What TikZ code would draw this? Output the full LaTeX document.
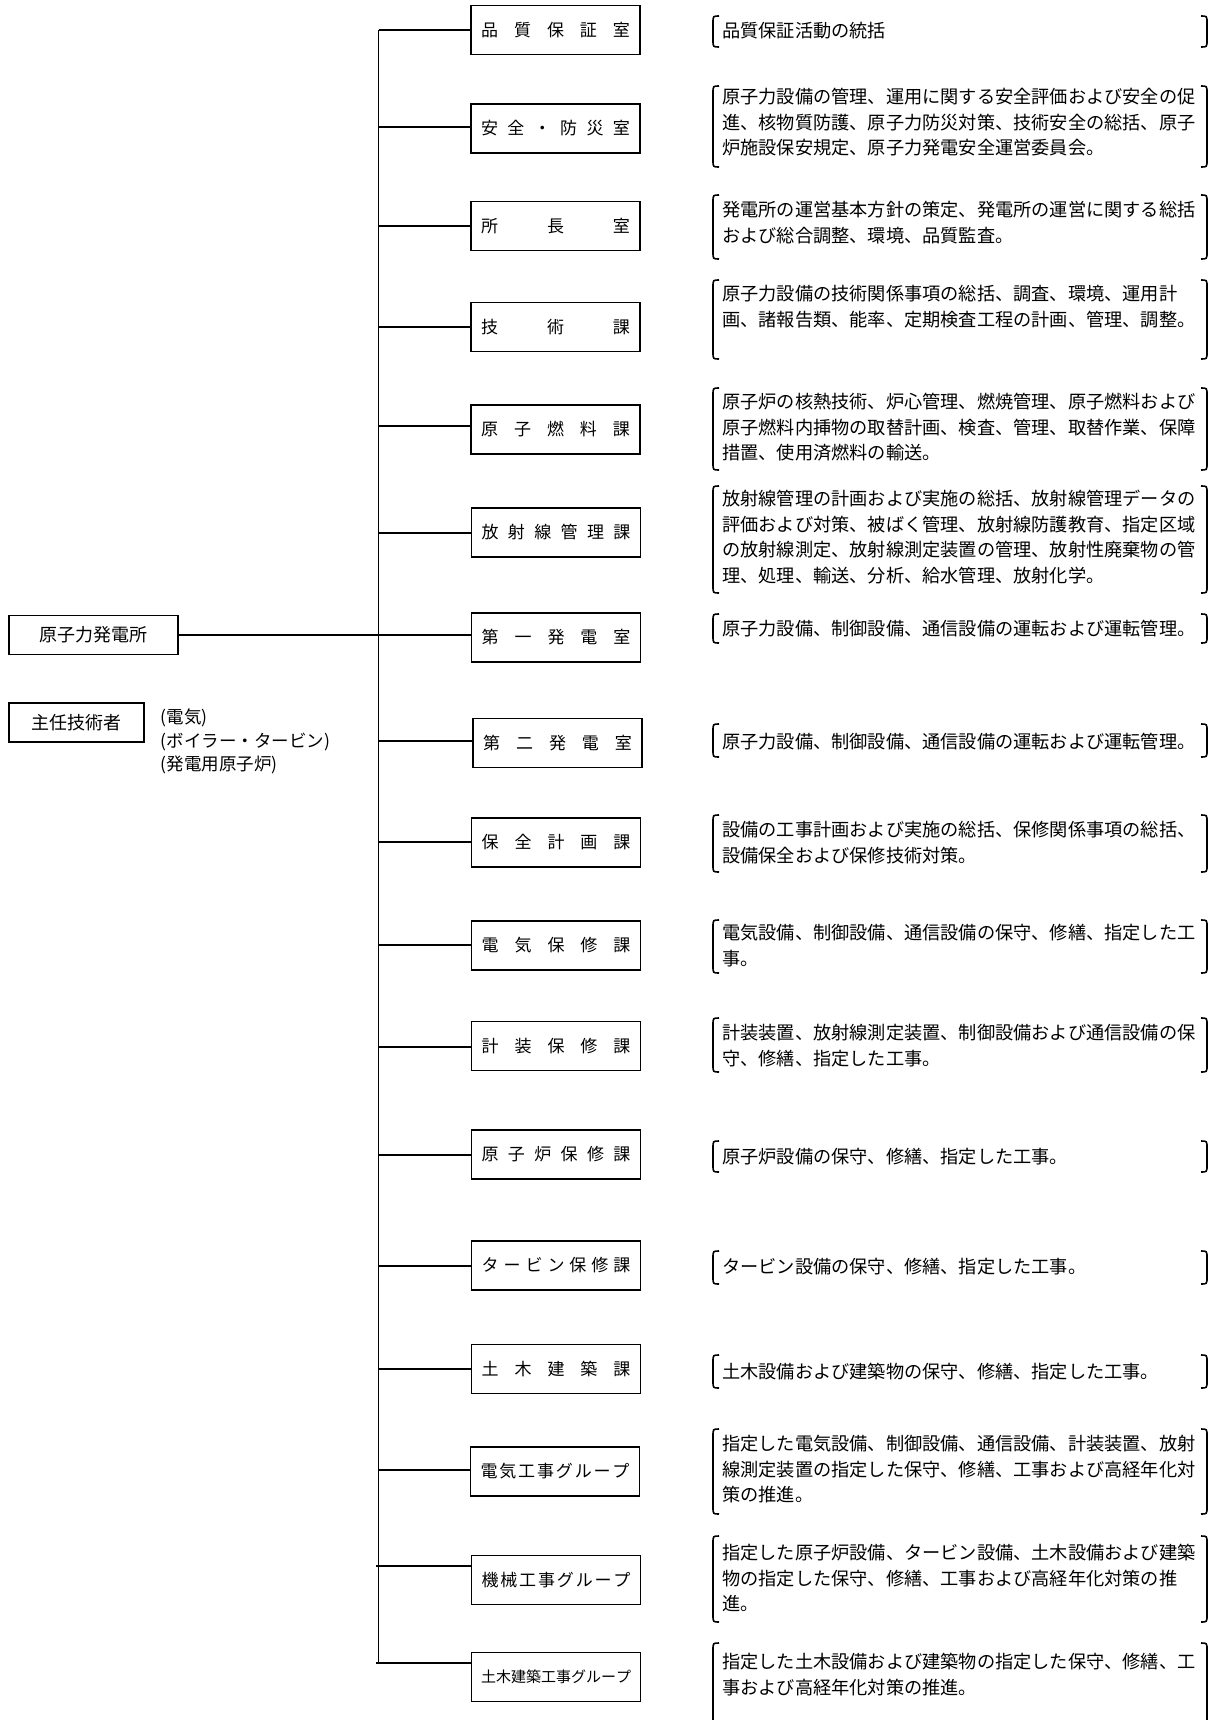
\documentclass[tikz,border=0pt]{standalone}
\usepackage{fontspec}
\setmainfont{Noto Sans CJK JP}
\newcommand\descblock[5]{%
  \draw[brk] (719,#2) .. controls (713,#2) and (713,#2) .. (713,#2+7) -- (713,#3-7) .. controls (713,#3) and (713,#3) .. (719,#3);
  \draw[brk] (1201,#2) .. controls (1207,#2) and (1207,#2) .. (1207,#2+7) -- (1207,#3-7) .. controls (1207,#3) and (1207,#3) .. (1201,#3);
  \foreach \t [count=\i] in {#5} {\node[desc] (#1-\i) at (722,{#4+6.9+(\i-1)*25.5}) {\t};}
}
\begin{document}
\begin{tikzpicture}[x=1pt,y=-1pt,
  conn/.style={line width=1.9pt},
  unit/.style={draw, line width=1.8pt, minimum width=169pt, minimum height=49pt, inner sep=0pt, font=\fontsize{17}{20}\selectfont},
  topbox/.style={draw, line width=1.8pt, minimum height=39pt, inner sep=0pt, font=\fontsize{18}{20}\selectfont},
  desc/.style={anchor=base west, inner sep=0pt, font=\fontsize{18.2}{25}\selectfont},
  note/.style={anchor=west, inner sep=0pt, font=\fontsize{17.5}{20}\selectfont},
  brk/.style={line width=1.6pt}]
\useasboundingbox (0,0) rectangle (1218,1720);
\clip (0,0) rectangle (1218,1720);

% left boxes
\node[topbox, minimum width=169pt] (hq) at (93.5,635) {原子力発電所};
\node[topbox, line width=1.3pt, minimum width=135pt] (chief) at (76.5,722.5) {主任技術者};
\node[note] (n1) at (160.5,718) {(電気)};
\node[note] (n2) at (160.5,741.5) {(ボイラー・タービン)};
\node[note] (n3) at (160.5,765) {(発電用原子炉)};

% unit boxes
\node[unit] (b1) at (555.5,30) {\makebox[149pt]{品\hfill 質\hfill 保\hfill 証\hfill 室}};
\node[unit] (b2) at (555.5,128.5) {\makebox[149pt]{安\hfill 全\hfill ・\hfill 防\hfill 災\hfill 室}};
\node[unit] (b3) at (555.5,226) {\makebox[149pt]{所\hfill 長\hfill 室}};
\node[unit] (b4) at (555.5,327) {\makebox[149pt]{技\hfill 術\hfill 課}};
\node[unit] (b5) at (555.5,429.5) {\makebox[149pt]{原\hfill 子\hfill 燃\hfill 料\hfill 課}};
\node[unit] (b6) at (556,532.5) {\makebox[149pt]{放\hfill 射\hfill 線\hfill 管\hfill 理\hfill 課}};
\node[unit] (b7) at (556,637.5) {\makebox[149pt]{第\hfill 一\hfill 発\hfill 電\hfill 室}};
\node[unit] (b8) at (557.5,743) {\makebox[149pt]{第\hfill 二\hfill 発\hfill 電\hfill 室}};
\node[unit] (b9) at (556,842.5) {\makebox[149pt]{保\hfill 全\hfill 計\hfill 画\hfill 課}};
\node[unit] (b10) at (556,945.5) {\makebox[149pt]{電\hfill 気\hfill 保\hfill 修\hfill 課}};
\node[unit] (b11) at (556,1046) {\makebox[149pt]{計\hfill 装\hfill 保\hfill 修\hfill 課}};
\node[unit] (b12) at (556,1154.5) {\makebox[149pt]{原\hfill 子\hfill 炉\hfill 保\hfill 修\hfill 課}};
\node[unit] (b13) at (556,1265.5) {\makebox[149pt]{タ\hfill ー\hfill ビ\hfill ン\hfill 保\hfill 修\hfill 課}};
\node[unit] (b14) at (556,1369) {\makebox[149pt]{土\hfill 木\hfill 建\hfill 築\hfill 課}};
\node[unit] (b15) at (555,1471.5) {\makebox[149pt]{電\hfill 気\hfill 工\hfill 事\hfill グ\hfill ル\hfill ー\hfill プ}};
\node[unit] (b16) at (556,1580) {\makebox[149pt]{機\hfill 械\hfill 工\hfill 事\hfill グ\hfill ル\hfill ー\hfill プ}};
\node[unit, font=\fontsize{15}{18}\selectfont] (b17) at (556,1677) {\makebox[147pt]{土\hfill 木\hfill 建\hfill 築\hfill 工\hfill 事\hfill グ\hfill ル\hfill ー\hfill プ}};

% trunk and branches
\coordinate (t1) at (378.5,30);
\coordinate (tend) at (378.5,1663);
\draw[conn] (t1) -- (tend);
\foreach \n/\y in {2/127,3/226,4/327,5/426,6/533,8/741,9/842,10/945,11/1047,12/1155,13/1266,14/1369,15/1470}{
  \coordinate (t\n) at (378.5,\y);
  \draw[conn] (t\n) -- (b\n.west |- t\n);
}
\coordinate (t16) at (376,1566);
\coordinate (t17) at (376,1663);
\draw[conn] (t1) -- (b1.west |- t1);
\draw[conn] (t16) -- (b16.west |- t16);
\draw[conn] (t17) -- (b17.west |- t17);
\draw[conn] (hq.east) -- (b7.west |- hq.east);

% descriptions
\descblock{d1}{16}{47}{31}{品質保証活動の統括}
\descblock{d2}{86}{167}{97}{原子力設備の管理、運用に関する安全評価および安全の促,進、核物質防護、原子力防災対策、技術安全の総括、原子,炉施設保安規定、原子力発電安全運営委員会。}
\descblock{d3}{195}{259}{210}{発電所の運営基本方針の策定、発電所の運営に関する総括,および総合調整、環境、品質監査。}
\descblock{d4}{280}{359}{294}{原子力設備の技術関係事項の総括、調査、環境、運用計,画、諸報告類、能率、定期検査工程の計画、管理、調整。}
\descblock{d5}{388}{470}{402}{原子炉の核熱技術、炉心管理、燃焼管理、原子燃料および,原子燃料内挿物の取替計画、検査、管理、取替作業、保障,措置、使用済燃料の輸送。}
\descblock{d6}{486}{593}{499}{放射線管理の計画および実施の総括、放射線管理データの,評価および対策、被ばく管理、放射線防護教育、指定区域,の放射線測定、放射線測定装置の管理、放射性廃棄物の管,理、処理、輸送、分析、給水管理、放射化学。}
\descblock{d7}{614}{643}{629}{原子力設備、制御設備、通信設備の運転および運転管理。}
\descblock{d8}{724}{757}{742}{原子力設備、制御設備、通信設備の運転および運転管理。}
\descblock{d9}{815}{872}{830}{設備の工事計画および実施の総括、保修関係事項の総括、,設備保全および保修技術対策。}
\descblock{d10}{920}{973}{933}{電気設備、制御設備、通信設備の保守、修繕、指定した工,事。}
\descblock{d11}{1018}{1072}{1033}{計装装置、放射線測定装置、制御設備および通信設備の保,守、修繕、指定した工事。}
\descblock{d12}{1141}{1172}{1157}{原子炉設備の保守、修繕、指定した工事。}
\descblock{d13}{1251}{1284}{1267}{タービン設備の保守、修繕、指定した工事。}
\descblock{d14}{1355}{1388}{1372}{土木設備および建築物の保守、修繕、指定した工事。}
\descblock{d15}{1429}{1514}{1444}{指定した電気設備、制御設備、通信設備、計装装置、放射,線測定装置の指定した保守、修繕、工事および高経年化対,策の推進。}
\descblock{d16}{1536}{1622}{1553}{指定した原子炉設備、タービン設備、土木設備および建築,物の指定した保守、修繕、工事および高経年化対策の推,進。}
\descblock{d17}{1643}{1740}{1662}{指定した土木設備および建築物の指定した保守、修繕、工,事および高経年化対策の推進。}
\end{tikzpicture}
\end{document}
